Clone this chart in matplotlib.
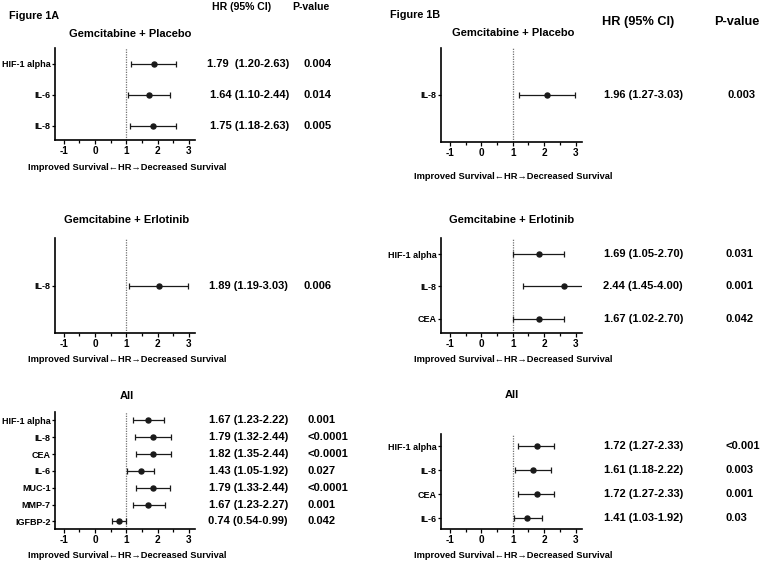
"""
Figure 1A / 1B forest plots: hazard ratios per marker, by treatment arm.
"""
import matplotlib

matplotlib.use("Agg")
import matplotlib.pyplot as plt  # noqa: E402
from matplotlib.ticker import MultipleLocator  # noqa: E402
from matplotlib.transforms import blended_transform_factory  # noqa: E402

W, H = 760, 562
DPI = 100.0

plt.rcParams["font.family"] = ["Liberation Sans", "DejaVu Sans"]
plt.rcParams["font.weight"] = "bold"
plt.rcParams["axes.unicode_minus"] = False

# --- 1A, Gemcitabine + Placebo
A1_MARKERS = ["HIF-1 alpha", "IL-6", "IL-8"]
A1_EST = [1.88, 1.72, 1.86]
A1_LO = [1.16, 1.04, 1.13]
A1_HI = [2.58, 2.40, 2.58]
A1_HR = ["1.79  (1.20-2.63)", "1.64 (1.10-2.44)", "1.75 (1.18-2.63)"]
A1_P = ["0.004", "0.014", "0.005"]

# --- 1A, Gemcitabine + Erlotinib
A2_MARKERS = ["IL-8"]
A2_EST = [2.04]
A2_LO = [1.10]
A2_HI = [2.98]
A2_HR = ["1.89 (1.19-3.03)"]
A2_P = ["0.006"]

# --- 1A, All
A3_MARKERS = ["HIF-1 alpha", "IL-8", "CEA", "IL-6", "MUC-1", "MMP-7", "IGFBP-2"]
A3_EST = [1.70, 1.85, 1.87, 1.46, 1.85, 1.71, 0.76]
A3_LO = [1.20, 1.29, 1.32, 1.03, 1.30, 1.20, 0.53]
A3_HI = [2.20, 2.42, 2.43, 1.89, 2.41, 2.24, 0.98]
A3_HR = ["1.67 (1.23-2.22)", "1.79 (1.32-2.44)", "1.82 (1.35-2.44)",
         "1.43 (1.05-1.92)", "1.79 (1.33-2.44)", "1.67 (1.23-2.27)",
         "0.74 (0.54-0.99)"]
A3_P = ["0.001", "<0.0001", "<0.0001", "0.027", "<0.0001", "0.001", "0.042"]

# --- 1B, Gemcitabine + Placebo
B1_MARKERS = ["IL-8"]
B1_EST = [2.08]
B1_LO = [1.19]
B1_HI = [2.99]
B1_HR = ["1.96 (1.27-3.03)"]
B1_P = ["0.003"]

# --- 1B, Gemcitabine + Erlotinib
B2_MARKERS = ["HIF-1 alpha", "IL-8", "CEA"]
B2_EST = [1.82, 2.63, 1.82]
B2_LO = [1.00, 1.32, 1.00]
B2_HI = [2.63, 4.00, 2.63]
B2_HR = ["1.69 (1.05-2.70)", "2.44 (1.45-4.00)", "1.67 (1.02-2.70)"]
B2_P = ["0.031", "0.001", "0.042"]

# --- 1B, All
B3_MARKERS = ["HIF-1 alpha", "IL-8", "CEA", "IL-6"]
B3_EST = [1.77, 1.63, 1.77, 1.44]
B3_LO = [1.18, 1.07, 1.18, 1.03]
B3_HI = [2.32, 2.21, 2.32, 1.92]
B3_HR = ["1.72 (1.27-2.33)", "1.61 (1.18-2.22)", "1.72 (1.27-2.33)",
         "1.41 (1.03-1.92)"]
B3_P = ["<0.001", "0.003", "0.001", "0.03"]

XLABEL = "Improved Survival\u2190HR\u2192Decreased Survival"


def fx(x):
    return x / W


def fy(y):
    return 1.0 - y / H


def rect(x0, y0, x1, y1):
    return (x0 / W, 1.0 - y1 / H, (x1 - x0) / W, (y1 - y0) / H)


def forest(fig, box, title, title_xy, xlabel_y, markers, est, lo, hi,
           hr_txt, p_txt, hr_x, p_x):
    ax = fig.add_axes(rect(*box))
    ys = list(range(len(markers)))
    xerr = [[e - l for e, l in zip(est, lo)], [h - e for e, h in zip(est, hi)]]
    ax.errorbar(est, ys, xerr=xerr, fmt="o", color="#1a1a1a", ms=3.6,
                elinewidth=0.9, capsize=1.9, capthick=0.9)
    ax.axvline(1, color="0.45", lw=0.9, ls=(0, (1, 1)), zorder=0)

    ax.set_xlim(-1.28, 3.2)
    if len(markers) == 1:
        ax.set_ylim(1.5, -1.5)
    else:
        ax.set_ylim(len(markers) - 0.55, -0.5)
    ax.set_xticks([-1, 0, 1, 2, 3])
    ax.xaxis.set_minor_locator(MultipleLocator(0.5))
    ax.set_yticks(ys)
    ax.set_yticklabels(markers)
    ax.tick_params(axis="x", labelsize=7.2, width=0.9, length=3, pad=1.5)
    ax.tick_params(axis="y", labelsize=6.5, width=0.9, length=2.5, pad=0.5)
    ax.tick_params(axis="x", which="minor", length=2, width=0.9)
    for s in ("top", "right"):
        ax.spines[s].set_visible(False)
    for s in ("left", "bottom"):
        ax.spines[s].set_linewidth(1.2)

    fig.text(fx(title_xy[0]), fy(title_xy[1]), title, ha="center",
             va="center", fontsize=8, fontweight="bold")
    fig.text(fx((box[0] + box[2]) / 2 + 2), fy(xlabel_y), XLABEL,
             ha="center", va="center", fontsize=6.7, fontweight="bold")

    tr = blended_transform_factory(fig.transFigure, ax.transData)
    for y, t, p in zip(ys, hr_txt, p_txt):
        ax.text(fx(hr_x), y, t, transform=tr, ha="right", va="center",
                fontsize=8, fontweight="bold", clip_on=False)
        ax.text(fx(p_x), y, p, transform=tr, ha="left", va="center",
                fontsize=8, fontweight="bold", clip_on=False)
    return ax


def main():
    fig = plt.figure(figsize=(W / DPI, H / DPI), dpi=DPI)
    fig.patch.set_facecolor("white")

    # left column (1A)
    forest(fig, (55, 48, 195, 140), "Gemcitabine + Placebo", (130, 34), 168,
           A1_MARKERS, A1_EST, A1_LO, A1_HI, A1_HR, A1_P, 289, 303)
    forest(fig, (55, 238, 195, 333), "Gemcitabine + Erlotinib", (127, 220), 359,
           A2_MARKERS, A2_EST, A2_LO, A2_HI, A2_HR, A2_P, 288, 303)
    forest(fig, (55, 412, 195, 529), "All", (127, 396), 556,
           A3_MARKERS, A3_EST, A3_LO, A3_HI, A3_HR, A3_P, 288, 308)

    # right column (1B)
    forest(fig, (441, 48, 582, 142), "Gemcitabine + Placebo", (513, 33), 177,
           B1_MARKERS, B1_EST, B1_LO, B1_HI, B1_HR, B1_P, 683, 727)
    forest(fig, (441, 238, 582, 333), "Gemcitabine + Erlotinib", (512, 220), 359,
           B2_MARKERS, B2_EST, B2_LO, B2_HI, B2_HR, B2_P, 683, 725)
    forest(fig, (441, 434, 582, 529), "All", (512, 395), 556,
           B3_MARKERS, B3_EST, B3_LO, B3_HI, B3_HR, B3_P, 683, 725)

    # headers
    fig.text(fx(9), fy(16), "Figure 1A", ha="left", va="center",
             fontsize=7.8, fontweight="bold")
    fig.text(fx(390), fy(15), "Figure 1B", ha="left", va="center",
             fontsize=7.8, fontweight="bold")
    fig.text(fx(242), fy(7), "HR (95% CI)", ha="center", va="center",
             fontsize=7.6, fontweight="bold")
    fig.text(fx(311), fy(7), "P-value", ha="center", va="center",
             fontsize=7.6, fontweight="bold")
    fig.text(fx(638), fy(22), "HR (95% CI)", ha="center", va="center",
             fontsize=9.2, fontweight="bold")
    fig.text(fx(737), fy(22), "P-value", ha="center", va="center",
             fontsize=9.2, fontweight="bold")

    fig.savefig("out.png", dpi=DPI, facecolor="white")
    plt.close(fig)


if __name__ == "__main__":
    main()
